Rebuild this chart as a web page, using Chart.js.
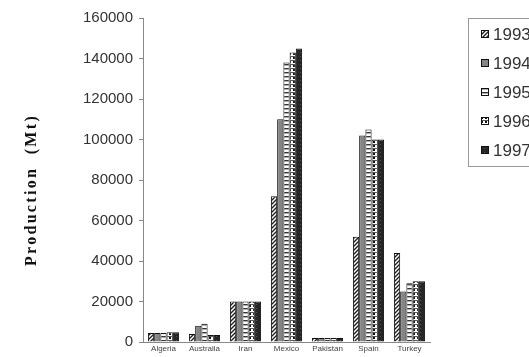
<!DOCTYPE html>
<html>
<head>
<meta charset="utf-8">
<script src="https://cdn.jsdelivr.net/npm/chart.js@4"></script>
<style>
  html, body { margin: 0; padding: 0; background: #fff; overflow: hidden; }
  #wrap { width: 529px; height: 357px; }
</style>
</head>
<body>
<div id="wrap"><canvas id="chart" width="529" height="357"></canvas></div>
<script>
// Données
const countries = ['Algeria', 'Australia', 'Iran', 'Mexico', 'Pakistan', 'Spain', 'Turkey'];
const years = ['1993', '1994', '1995', '1996', '1997'];
const prod1993 = [4500, 4000, 20000, 72000, 2000, 52000, 44000];
const prod1994 = [4500, 8000, 20000, 110000, 2000, 102000, 25000];
const prod1995 = [4500, 9000, 20000, 138000, 2000, 105000, 29000];
const prod1996 = [4800, 3500, 20000, 143000, 2000, 100000, 30000];
const prod1997 = [4800, 3500, 20000, 145000, 2000, 100000, 30000];
const yTicks = [0, 20000, 40000, 60000, 80000, 100000, 120000, 140000, 160000];
const yTitle = 'Production  (Mt)';

// Motifs noir et blanc pour chaque année
function makePattern(kind) {
    const c = document.createElement('canvas');
    c.width = 4; c.height = 4;
    const g = c.getContext('2d');
    if (kind === 'diag') {
        g.fillStyle = '#fff'; g.fillRect(0, 0, 4, 4);
        g.strokeStyle = '#222'; g.lineWidth = 1.4;
        g.beginPath();
        g.moveTo(0, 4); g.lineTo(4, 0);
        g.moveTo(-1, 1); g.lineTo(1, -1);
        g.moveTo(3, 5); g.lineTo(5, 3);
        g.stroke();
    } else if (kind === 'gray') {
        g.fillStyle = '#858585'; g.fillRect(0, 0, 4, 4);
    } else if (kind === 'hlines') {
        g.fillStyle = '#fff'; g.fillRect(0, 0, 4, 4);
        g.fillStyle = '#333'; g.fillRect(0, 0, 4, 1.4);
    } else if (kind === 'grid') {
        g.fillStyle = '#fff'; g.fillRect(0, 0, 4, 4);
        g.fillStyle = '#555'; g.fillRect(0, 0, 4, 1);
        g.fillStyle = '#111'; g.fillRect(1, 1, 2, 2);
    } else {
        g.fillStyle = '#262626'; g.fillRect(0, 0, 4, 4);
        g.fillStyle = '#555'; g.fillRect(0, 0, 1, 1);
    }
    return document.createElement('canvas').getContext('2d').createPattern(c, 'repeat');
}

const fills = [makePattern('diag'), makePattern('gray'), makePattern('hlines'), makePattern('grid'), makePattern('dark')];
const series = [prod1993, prod1994, prod1995, prod1996, prod1997];

// Légende encadrée en haut à droite (coupée par le bord comme l'original)
const boxLegend = {
    id: 'boxLegend',
    afterDraw(chart) {
        const ctx = chart.ctx;
        ctx.save();
        ctx.strokeStyle = '#999';
        ctx.lineWidth = 1;
        ctx.strokeRect(468.5, 18.5, 80, 148);
        ctx.font = '17px "Liberation Sans", Arial, sans-serif';
        ctx.textBaseline = 'middle';
        chart.data.datasets.forEach((ds, i) => {
            const y = 34 + i * 29;
            ctx.fillStyle = ds.backgroundColor;
            ctx.fillRect(481, y - 4, 8, 8);
            ctx.strokeStyle = '#111';
            ctx.strokeRect(481.5, y - 3.5, 7, 7);
            ctx.fillStyle = '#333';
            ctx.fillText(ds.label, 493, y + 1);
        });
        ctx.restore();
    }
};

// Titre vertical de l'axe Y
const yAxisTitle = {
    id: 'yAxisTitle',
    afterDraw(chart) {
        const ctx = chart.ctx;
        ctx.save();
        ctx.translate(32, 190);
        ctx.rotate(-Math.PI / 2);
        ctx.font = 'bold 16px "Liberation Serif", "Times New Roman", serif';
        ctx.letterSpacing = '2.3px';
        ctx.fillStyle = '#111';
        ctx.textAlign = 'center';
        ctx.textBaseline = 'middle';
        ctx.fillText(yTitle, 0, 0);
        ctx.restore();
    }
};

new Chart(document.getElementById('chart'), {
    type: 'bar',
    data: {
        labels: countries,
        datasets: years.map((yr, i) => ({
            label: yr,
            data: series[i],
            backgroundColor: fills[i],
            borderColor: '#111',
            borderWidth: 1,
            categoryPercentage: 0.76,
            barPercentage: 1
        }))
    },
    options: {
        responsive: false,
        animation: false,
        layout: { padding: { top: 18, right: 99, left: 0, bottom: 0 } },
        plugins: {
            legend: { display: false },
            tooltip: { enabled: false }
        },
        scales: {
            x: {
                grid: { display: false, drawTicks: false, tickLength: 0 },
                border: { color: '#888' },
                ticks: {
                    font: { size: 8, family: '"Liberation Sans", Arial, sans-serif' },
                    color: '#444',
                    padding: 2,
                    maxRotation: 0,
                    autoSkip: false
                },
                afterFit(scale) { scale.height = 14; }
            },
            y: {
                min: 0,
                max: 160000,
                afterBuildTicks(scale) { scale.ticks = yTicks.map(v => ({ value: v })); },
                grid: { drawOnChartArea: false, tickLength: 4, color: '#888' },
                border: { color: '#888' },
                ticks: {
                    font: { size: 15, family: '"Liberation Sans", Arial, sans-serif' },
                    color: '#333',
                    padding: 6,
                    callback: v => String(v)
                },
                afterFit(scale) { scale.width = 143; }
            }
        }
    },
    plugins: [boxLegend, yAxisTitle]
});
</script>
</body>
</html>
